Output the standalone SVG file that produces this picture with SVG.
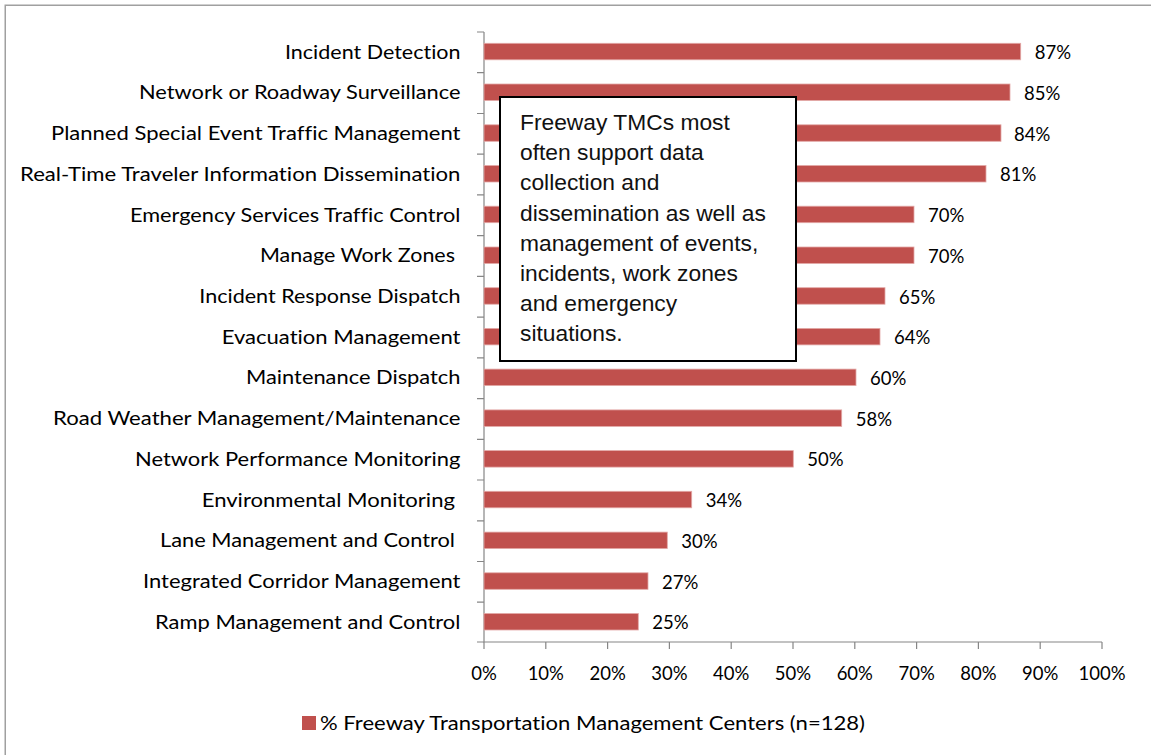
<svg xmlns="http://www.w3.org/2000/svg" width="1151" height="755" viewBox="0 0 1151 755">
<style>
.lbl{font-family:Lato,"Open Sans","Liberation Sans",sans-serif;font-size:18.5px;fill:#000;font-variant-ligatures:none}
.val{font-family:Lato,"Open Sans","Liberation Sans",sans-serif;font-size:18.5px;fill:#000}
.tick{font-family:Lato,"Open Sans","Liberation Sans",sans-serif;font-size:18.5px;fill:#000;text-anchor:middle}
.bar{fill:#C0504D;stroke:#E3A9A7;stroke-width:0.8}
.ax{stroke:#868686;stroke-width:1.2;fill:none}
.note{font-family:"Liberation Sans",Arial,sans-serif;font-size:22.8px;fill:#111}
</style>
<rect x="0" y="0" width="1151" height="755" fill="#fff"/>
<rect x="5.25" y="5.25" width="1200" height="800" fill="none" stroke="#A0A0A0" stroke-width="1.5"/>

<g id="axes">
<path class="ax" d="M484,32 V642 H1102"/>
<path class="ax" d="M477,32H484M477,72.7H484M477,113.5H484M477,154.2H484M477,194.9H484M477,235.7H484M477,276.4H484M477,317.1H484M477,357.8H484M477,398.6H484M477,439.3H484M477,480H484M477,520.8H484M477,561.5H484M477,602.2H484M477,642H484"/>
<path class="ax" d="M484,642V649M545.8,642V649M607.6,642V649M669.4,642V649M731.2,642V649M793,642V649M854.8,642V649M916.6,642V649M978.4,642V649M1040.2,642V649M1102,642V649"/>
<text class="tick" x="484" y="680">0%</text>
<text class="tick" x="545.8" y="680">10%</text>
<text class="tick" x="607.6" y="680">20%</text>
<text class="tick" x="669.4" y="680">30%</text>
<text class="tick" x="731.2" y="680">40%</text>
<text class="tick" x="793" y="680">50%</text>
<text class="tick" x="854.8" y="680">60%</text>
<text class="tick" x="916.6" y="680">70%</text>
<text class="tick" x="978.4" y="680">80%</text>
<text class="tick" x="1040.2" y="680">90%</text>
<text class="tick" x="1102" y="680">100%</text>
</g>

<g id="bars">
<rect class="bar" x="484" y="43.3" width="536.7" height="16.5"/>
<rect class="bar" x="484" y="84.0" width="526" height="16.5"/>
<rect class="bar" x="484" y="124.8" width="517" height="16.5"/>
<rect class="bar" x="484" y="165.5" width="502" height="16.5"/>
<rect class="bar" x="484" y="206.2" width="430" height="16.5"/>
<rect class="bar" x="484" y="247.0" width="430" height="16.5"/>
<rect class="bar" x="484" y="287.7" width="401" height="16.5"/>
<rect class="bar" x="484" y="328.4" width="396" height="16.5"/>
<rect class="bar" x="484" y="369.1" width="372" height="16.5"/>
<rect class="bar" x="484" y="409.9" width="357.7" height="16.5"/>
<rect class="bar" x="484" y="450.6" width="309.3" height="16.5"/>
<rect class="bar" x="484" y="491.3" width="207.7" height="16.5"/>
<rect class="bar" x="484" y="532.1" width="183.3" height="16.5"/>
<rect class="bar" x="484" y="572.8" width="164" height="16.5"/>
<rect class="bar" x="484" y="613.5" width="154.3" height="16.5"/>
</g>

<g id="values">
<text class="val" x="1034.7" y="59.1">87%</text>
<text class="val" x="1024" y="99.8">85%</text>
<text class="val" x="1014" y="140.6">84%</text>
<text class="val" x="1000" y="181.3">81%</text>
<text class="val" x="928" y="222">70%</text>
<text class="val" x="928" y="262.8">70%</text>
<text class="val" x="899" y="303.5">65%</text>
<text class="val" x="894" y="344.2">64%</text>
<text class="val" x="870" y="384.9">60%</text>
<text class="val" x="855.7" y="425.7">58%</text>
<text class="val" x="807.3" y="466.4">50%</text>
<text class="val" x="705.7" y="507.1">34%</text>
<text class="val" x="681.3" y="547.9">30%</text>
<text class="val" x="662" y="588.6">27%</text>
<text class="val" x="652.3" y="629.3">25%</text>
</g>

<g id="labels">
<text class="lbl" x="285" y="58.6" textLength="175.5" lengthAdjust="spacingAndGlyphs">Incident Detection</text>
<text class="lbl" x="139" y="99.3" textLength="321.5" lengthAdjust="spacingAndGlyphs">Network or Roadway Surveillance</text>
<text class="lbl" x="51" y="140.1" textLength="409.5" lengthAdjust="spacingAndGlyphs">Planned Special Event Traffic Management</text>
<text class="lbl" x="20" y="180.8" textLength="440.5" lengthAdjust="spacingAndGlyphs">Real-Time Traveler Information Dissemination</text>
<text class="lbl" x="130" y="221.5" textLength="330.5" lengthAdjust="spacingAndGlyphs">Emergency Services Traffic Control</text>
<text class="lbl" x="260" y="262.3" textLength="195" lengthAdjust="spacingAndGlyphs">Manage Work Zones</text>
<text class="lbl" x="199.3" y="303" textLength="261.2" lengthAdjust="spacingAndGlyphs">Incident Response Dispatch</text>
<text class="lbl" x="221.7" y="343.7" textLength="238.8" lengthAdjust="spacingAndGlyphs">Evacuation Management</text>
<text class="lbl" x="246" y="384.4" textLength="214.5" lengthAdjust="spacingAndGlyphs">Maintenance Dispatch</text>
<text class="lbl" x="53" y="425.2" textLength="407.5" lengthAdjust="spacingAndGlyphs">Road Weather Management/Maintenance</text>
<text class="lbl" x="135" y="465.9" textLength="325.5" lengthAdjust="spacingAndGlyphs">Network Performance Monitoring</text>
<text class="lbl" x="201.7" y="506.6" textLength="253.3" lengthAdjust="spacingAndGlyphs">Environmental Monitoring</text>
<text class="lbl" x="160" y="547.4" textLength="295" lengthAdjust="spacingAndGlyphs">Lane Management and Control</text>
<text class="lbl" x="143" y="588.1" textLength="317.5" lengthAdjust="spacingAndGlyphs">Integrated Corridor Management</text>
<text class="lbl" x="155" y="628.8" textLength="305.5" lengthAdjust="spacingAndGlyphs">Ramp Management and Control</text>
</g>

<g id="note">
<rect x="500" y="97" width="296" height="264" fill="#fff" stroke="#000" stroke-width="2"/>
<text class="note" x="520" y="130">Freeway TMCs most</text>
<text class="note" x="520" y="160.2">often support data</text>
<text class="note" x="520" y="190.4">collection and</text>
<text class="note" x="520" y="220.6">dissemination as well as</text>
<text class="note" x="520" y="250.8">management of events,</text>
<text class="note" x="520" y="281">incidents, work zones</text>
<text class="note" x="520" y="311.2">and emergency</text>
<text class="note" x="520" y="341.4">situations.</text>
</g>

<g id="legend">
<rect x="302" y="716" width="14" height="14" fill="#C0504D"/>
<text class="lbl" x="320" y="729.5" textLength="545" lengthAdjust="spacingAndGlyphs">% Freeway Transportation Management Centers (n=128)</text>
</g>
</svg>
